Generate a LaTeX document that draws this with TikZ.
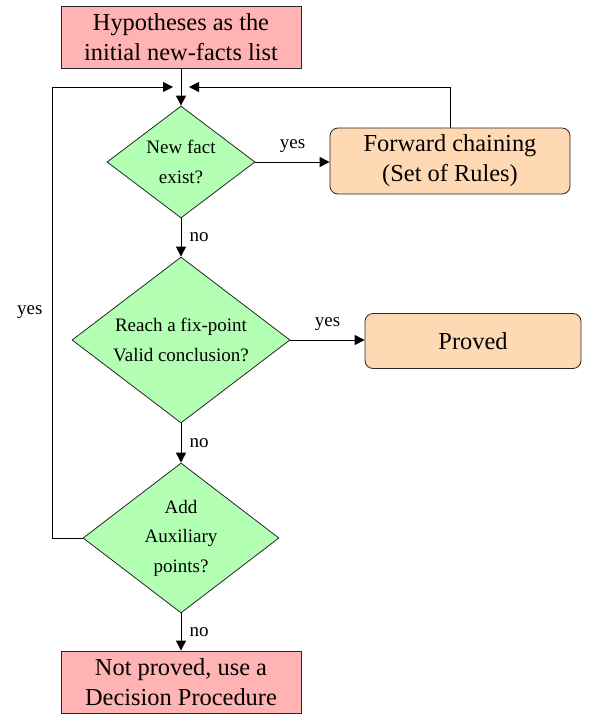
\documentclass[tikz,border=0pt]{standalone}
\usepackage{fontspec}
\setmainfont{Liberation Serif}
\usetikzlibrary{shapes.geometric,arrows.meta}
\definecolor{boxred}{RGB}{255,179,179}
\definecolor{decgreen}{RGB}{179,255,179}
\definecolor{procorange}{RGB}{255,217,179}
\begin{document}
\begin{tikzpicture}[x=1pt,y=-1pt,
  startstop/.style={rectangle,draw=black!85,line width=0.8pt,fill=boxred,minimum width=240pt,minimum height=62pt,inner sep=0pt,align=center,font=\fontsize{24.4}{30}\selectfont},
  decision/.style={diamond,shape aspect=1.31,draw=black!85,line width=0.8pt,fill=decgreen,inner sep=0pt,align=center,font=\fontsize{19}{29.5}\selectfont},
  process/.style={rectangle,rounded corners=8pt,draw=black!85,line width=0.8pt,fill=procorange,inner sep=0pt,align=center,font=\fontsize{24.4}{30}\selectfont},
  arr/.style={-{Triangle[length=10pt,width=10pt]},line width=1pt},
  lbl/.style={font=\fontsize{19}{22}\selectfont,inner sep=0pt}]
\useasboundingbox (0,0) rectangle (595,715);
\node[startstop] (start) at (181,37) {Hypotheses as the\\initial new-facts list};
\node[decision,minimum width=148pt,minimum height=112pt] (d1) at (181,162) {New fact\\exist?};
\node[process,minimum width=240pt,minimum height=66pt] (fc) at (450,161) {Forward chaining\\(Set of Rules)};
\node[decision,minimum width=218pt,minimum height=166pt] (d2) at (181,340) {Reach a fix-point\\Valid conclusion?};
\node[process,minimum width=216pt,minimum height=55pt] (pr) at (473,341) {Proved};
\node[decision,minimum width=196pt,minimum height=150pt] (d3) at (181,538) {Add\\Auxiliary\\points?};
\node[startstop] (end) at (181,682) {Not proved, use a\\Decision Procedure};
\coordinate (ml) at (173,87);
\coordinate (mr) at (189,87);
\coordinate (lc) at (52,538);
\draw[arr] (start.south) -- (d1.north);
\draw[arr] (d1.east) -- node[lbl,above=9pt] {yes} (d1.east -| fc.west);
\draw[arr] (d1.south) -- node[lbl,right=8pt] {no} (d2.north);
\draw[arr] (d2.east) -- node[lbl,above=9pt] {yes} (d2.east -| pr.west);
\draw[arr] (d2.south) -- node[lbl,right=8pt] {no} (d3.north);
\draw[arr] (d3.south) -- node[lbl,right=8pt] {no} (end.north);
\draw[arr] (d3.west) -- (lc) |- node[lbl,pos=0.25,left=9pt] {yes} (ml);
\draw[arr] (fc.north) |- (mr);
\end{tikzpicture}
\end{document}
